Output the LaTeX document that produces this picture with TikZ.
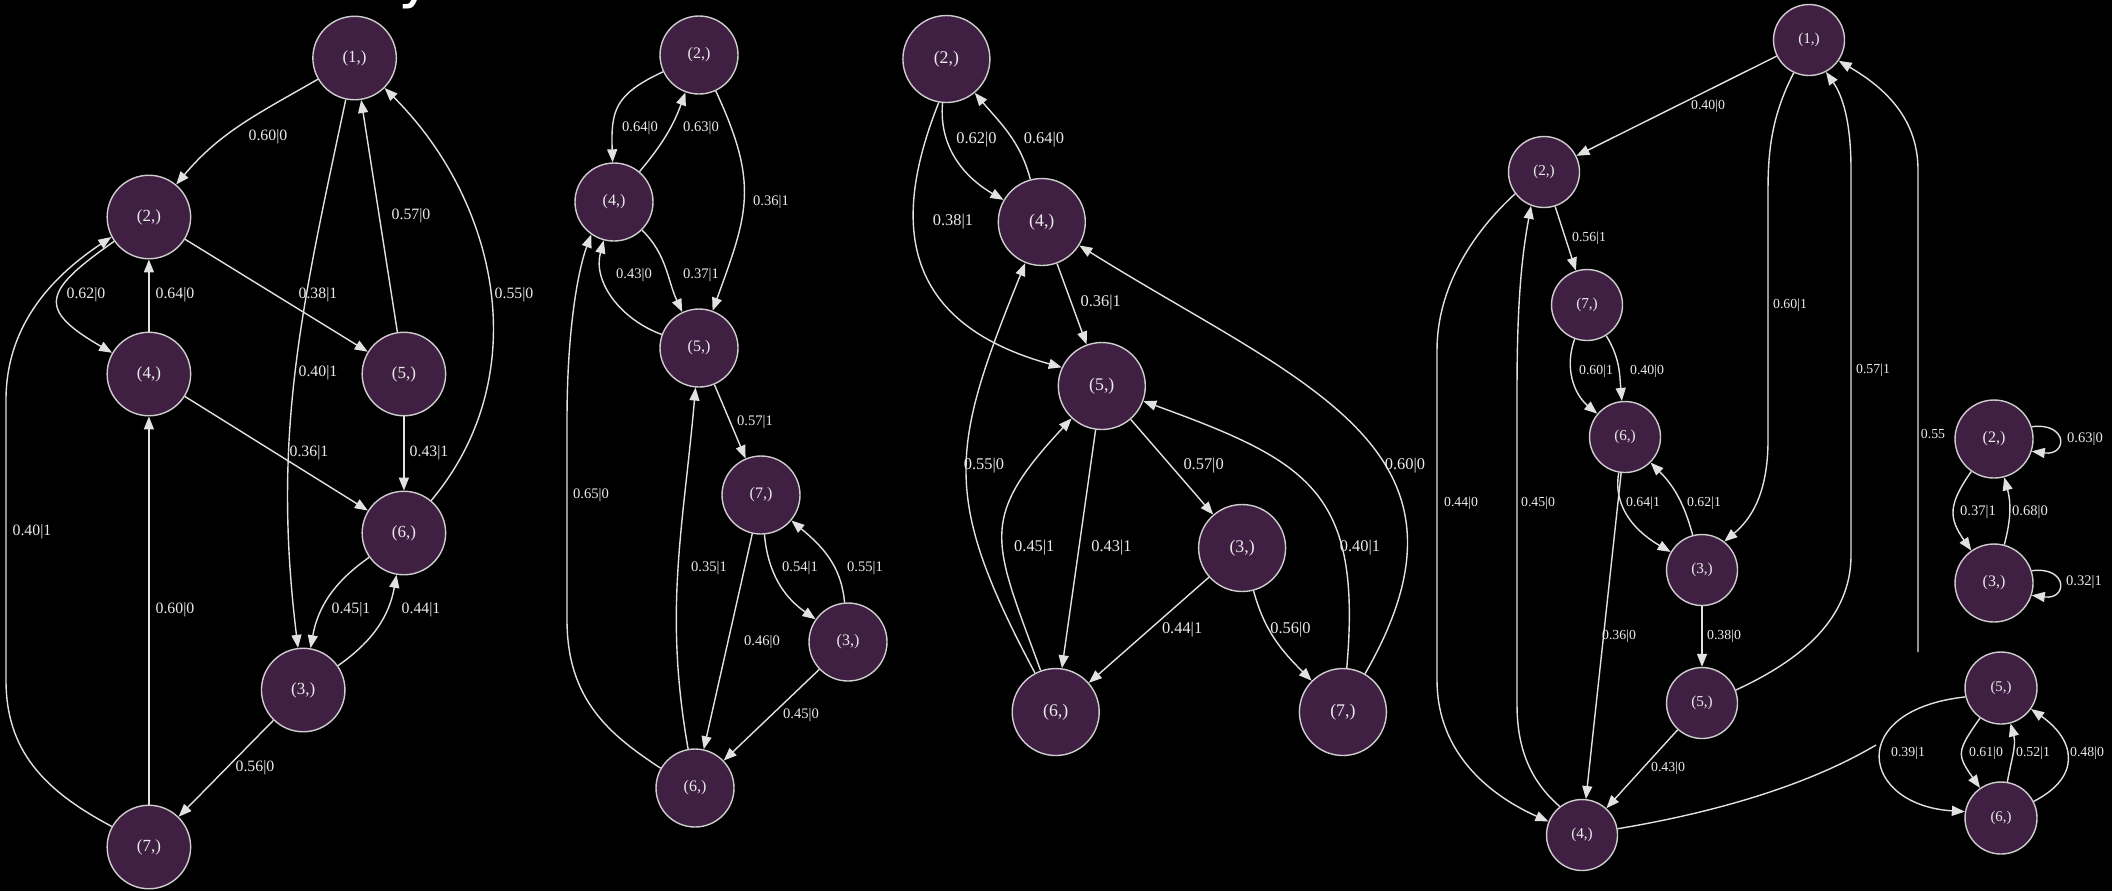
\documentclass[tikz,border=0pt]{standalone}
\usepackage{fontspec}
\setmainfont{Liberation Serif}
\newfontfamily\ttlfont{DejaVu Sans}
\usetikzlibrary{arrows.meta}

\definecolor{statefill}{RGB}{64,32,66}
\definecolor{stateline}{RGB}{205,205,205}
\definecolor{edgecol}{RGB}{225,225,225}
\definecolor{txtcol}{RGB}{235,235,235}

\tikzset{
  state/.style={circle, draw=stateline, line width=0.7pt, fill=statefill,
    minimum size=39pt, inner sep=0pt, text=txtcol, font=\fontsize{8}{9}\selectfont},
  stateA/.style={state, minimum size=41.75pt, font=\fontsize{8.5}{9}\selectfont},
  stateC/.style={state, minimum size=43.5pt, font=\fontsize{8.9}{10}\selectfont},
  stateD/.style={state, minimum size=35.5pt, font=\fontsize{7.6}{9}\selectfont},
  stateE/.style={state, minimum size=36pt, font=\fontsize{7.4}{9}\selectfont},
  conn/.style={draw=edgecol, line width=0.7pt, -{Triangle[length=6.5pt,width=5pt]}},
  connplain/.style={draw=edgecol, line width=0.7pt},
  lbl/.style={text=txtcol, font=\fontsize{7.3}{8}\selectfont, inner sep=0pt},
  lblA/.style={lbl, font=\fontsize{7.9}{9}\selectfont},
  lblC/.style={lbl, font=\fontsize{8.2}{9}\selectfont},
  lblD/.style={lbl, font=\fontsize{6.9}{8}\selectfont},
  lblE/.style={lbl, font=\fontsize{6.9}{8}\selectfont},
}

\begin{document}
\begin{tikzpicture}[x=0.5pt,y=0.5pt]
\useasboundingbox (0,0) rectangle (2112,-891);
\fill[black] (0,0) rectangle (2112,-891);

% title glyph, mostly above the page
\node[font=\ttlfont\fontsize{30}{30}\selectfont, text=white, anchor=base, inner sep=0pt] (ttl) at (416,4) {y};

% ---------------- graph 1 ----------------
\node[stateA] (g1n1) at (354.6,-58) {(1,)};
\node[stateA] (g1n2) at (148.9,-217) {(2,)};
\node[stateA] (g1n4) at (148.9,-374) {(4,)};
\node[stateA] (g1n5) at (403.9,-374) {(5,)};
\node[stateA] (g1n6) at (403.9,-533) {(6,)};
\node[stateA] (g1n3) at (303.2,-690) {(3,)};
\node[stateA] (g1n7) at (148.9,-847) {(7,)};

\draw[conn] (g1n1) to[out=210,in=50] (g1n2);
\draw[conn] (g1n1) to[out=-102,in=97] (g1n3);
\draw[conn] (g1n5) -- (g1n1);
\draw[conn] (g1n6) to[out=50,in=-45] (g1n1);
\draw[conn] (g1n2) to[out=215,in=150,looseness=2] (g1n4);
\draw[conn] (g1n4) -- (g1n2);
\draw[conn] (g1n2) -- (g1n5);
\draw[conn] (g1n4) -- (g1n6);
\draw[conn] (g1n5) -- (g1n6);
\draw[conn] (g1n6) to[out=215,in=80] (g1n3);
\draw[conn] (g1n3) to[out=35,in=-100] (g1n6);
\draw[conn] (g1n3) -- (g1n7);
\draw[conn] (g1n7) -- (g1n4);
\draw[conn] (g1n7.151) .. controls (43,-790) and (6,-750) .. (6,-680)
  -- (6,-400) .. controls (6,-320) and (59,-272) .. (g1n2.208);

\node[lblA] (g1l1) at (268,-137) {0.60|0};
\node[lblA] (g1l2) at (318,-373) {0.40|1};
\node[lblA] (g1l3) at (411,-216) {0.57|0};
\node[lblA] (g1l4) at (514,-295) {0.55|0};
\node[lblA] (g1l5) at (86,-295) {0.62|0};
\node[lblA] (g1l6) at (175,-295) {0.64|0};
\node[lblA] (g1l7) at (318,-295) {0.38|1};
\node[lblA] (g1l8) at (309,-453) {0.36|1};
\node[lblA] (g1l9) at (429,-453) {0.43|1};
\node[lblA] (g1l10) at (351,-610) {0.45|1};
\node[lblA] (g1l11) at (421,-610) {0.44|1};
\node[lblA] (g1l12) at (255,-768) {0.56|0};
\node[lblA] (g1l13) at (175,-610) {0.60|0};
\node[lblA] (g1l14) at (32,-532) {0.40|1};

% ---------------- graph 2 ----------------
\node[state] (g2n2) at (699,-55) {(2,)};
\node[state] (g2n4) at (614,-202) {(4,)};
\node[state] (g2n5) at (699,-348) {(5,)};
\node[state] (g2n7) at (761,-495) {(7,)};
\node[state] (g2n3) at (848,-642) {(3,)};
\node[state] (g2n6) at (695,-788) {(6,)};

\draw[conn] (g2n2) to[out=205,in=92,looseness=1.3] (g2n4);
\draw[conn] (g2n4) to[out=50,in=-110] (g2n2);
\draw[conn] (g2n2) to[out=-65,in=70,looseness=1.2] (g2n5);
\draw[conn] (g2n4) to[out=-45,in=115] (g2n5);
\draw[conn] (g2n5) to[out=160,in=-105] (g2n4);
\draw[conn] (g2n5) -- (g2n7);
\draw[conn] (g2n6.150) .. controls (610,-735) and (567,-700) .. (567,-620)
  -- (567,-420) .. controls (567,-330) and (578,-270) .. (g2n4.235);
\draw[conn] (g2n6) to[out=100,in=-95] (g2n5);
\draw[conn] (g2n7) -- (g2n6);
\draw[conn] (g2n7) to[out=-85,in=145] (g2n3);
\draw[conn] (g2n3) to[out=95,in=-40] (g2n7);
\draw[conn] (g2n3) -- (g2n6);

\node[lbl] (g2l1) at (640,-128) {0.64|0};
\node[lbl] (g2l2) at (701,-128) {0.63|0};
\node[lbl] (g2l3) at (771,-202) {0.36|1};
\node[lbl] (g2l4) at (701,-275) {0.37|1};
\node[lbl] (g2l5) at (634,-275) {0.43|0};
\node[lbl] (g2l6) at (755,-422) {0.57|1};
\node[lbl] (g2l7) at (591,-495) {0.65|0};
\node[lbl] (g2l8) at (709,-568) {0.35|1};
\node[lbl] (g2l9) at (762,-642) {0.46|0};
\node[lbl] (g2l10) at (800,-568) {0.54|1};
\node[lbl] (g2l11) at (865,-568) {0.55|1};
\node[lbl] (g2l12) at (801,-715) {0.45|0};

% ---------------- graph 3 ----------------
\node[stateC] (g3n2) at (946.4,-59) {(2,)};
\node[stateC] (g3n4) at (1041.8,-222) {(4,)};
\node[stateC] (g3n5) at (1101.8,-386) {(5,)};
\node[stateC] (g3n3) at (1242.1,-548) {(3,)};
\node[stateC] (g3n6) at (1055.7,-712) {(6,)};
\node[stateC] (g3n7) at (1342.9,-712) {(7,)};

\draw[conn] (g3n2) to[out=-95,in=150] (g3n4);
\draw[conn] (g3n4) to[out=105,in=-50] (g3n2);
\draw[conn] (g3n2.-100) .. controls (896,-210) and (891,-320) .. (g3n5.155);
\draw[conn] (g3n4) -- (g3n5);
\draw[conn] (g3n6) to[out=118,in=-112,looseness=1.25] (g3n4);
\draw[conn] (g3n6) to[out=110,in=-133,looseness=1.4] (g3n5);
\draw[conn] (g3n5) -- (g3n6);
\draw[conn] (g3n5) -- (g3n3);
\draw[conn] (g3n3) -- (g3n6);
\draw[conn] (g3n3) to[out=-75,in=135] (g3n7);
\draw[conn] (g3n7) to[out=85,in=-20,looseness=1.35] (g3n5);
\draw[conn] (g3n7) to[out=60,in=-32,looseness=1.3] (g3n4);

\node[lblC] (g3l1) at (976.4,-140) {0.62|0};
\node[lblC] (g3l2) at (1043.9,-140) {0.64|0};
\node[lblC] (g3l3) at (952.9,-222) {0.38|1};
\node[lblC] (g3l4) at (1100.7,-303) {0.36|1};
\node[lblC] (g3l5) at (983.9,-466) {0.55|0};
\node[lblC] (g3l6) at (1034.3,-548) {0.45|1};
\node[lblC] (g3l7) at (1111.4,-548) {0.43|1};
\node[lblC] (g3l8) at (1203.6,-466) {0.57|0};
\node[lblC] (g3l9) at (1182.1,-630) {0.44|1};
\node[lblC] (g3l10) at (1290.4,-630) {0.56|0};
\node[lblC] (g3l11) at (1360,-548) {0.40|1};
\node[lblC] (g3l12) at (1405,-466) {0.60|0};

% ---------------- graph 4 ----------------
\node[stateD] (g4n1) at (1809,-40) {(1,)};
\node[stateD] (g4n2) at (1544,-172) {(2,)};
\node[stateD] (g4n7) at (1587,-305) {(7,)};
\node[stateD] (g4n6) at (1625,-437) {(6,)};
\node[stateD] (g4n3) at (1702,-570) {(3,)};
\node[stateD] (g4n5) at (1702,-703) {(5,)};
\node[stateD] (g4n4) at (1582,-835) {(4,)};
\coordinate (g4cutA) at (1876,-745);
\coordinate (g4cutB) at (1918,-652);

\draw[conn] (g4n1) -- (g4n2);
\draw[conn] (g4n1.245) .. controls (1772,-115) and (1768,-150) .. (1768,-190)
  -- (1768,-440) .. controls (1768,-495) and (1750,-520) .. (g4n3.52);
\draw[conn] (g4n5.21) .. controls (1790,-665) and (1851,-625) .. (1851,-555)
  -- (1851,-170) .. controls (1851,-120) and (1842,-95) .. (g4n1.-62);
\draw[connplain] (g4n4.10) .. controls (1700,-815) and (1800,-790) .. (g4cutA);
\draw[conn] (g4cutB) -- (1918,-170) .. controls (1918,-115) and (1880,-85) .. (g4n1.-35);
\draw[conn] (g4n2.217) .. controls (1470,-235) and (1437,-290) .. (1437,-350)
  -- (1437,-680) .. controls (1437,-760) and (1500,-800) .. (g4n4.158);
\draw[conn] (g4n4.128) .. controls (1535,-785) and (1517,-755) .. (1517,-705)
  -- (1517,-390) .. controls (1517,-300) and (1522,-255) .. (g4n2.-111);
\draw[conn] (g4n2) -- (g4n7);
\draw[conn] (g4n7) to[out=-110,in=140] (g4n6);
\draw[conn] (g4n7) to[out=-58,in=95] (g4n6);
\draw[conn] (g4n6) to[out=-100,in=150] (g4n3);
\draw[conn] (g4n3) to[out=105,in=-45] (g4n6);
\draw[conn] (g4n6) -- (g4n4);
\draw[conn] (g4n3) -- (g4n5);
\draw[conn] (g4n5) -- (g4n4);

\node[lblD] (g4l1) at (1708,-106) {0.40|0};
\node[lblD] (g4l2) at (1790,-305) {0.60|1};
\node[lblD] (g4l3) at (1873,-370) {0.57|1};
\node[lblD] (g4l4) at (1933,-434) {0.55};
\node[lblD] (g4l5) at (1461,-503) {0.44|0};
\node[lblD] (g4l6) at (1538,-503) {0.45|0};
\node[lblD] (g4l7) at (1589,-238) {0.56|1};
\node[lblD] (g4l8) at (1596,-371) {0.60|1};
\node[lblD] (g4l9) at (1647,-371) {0.40|0};
\node[lblD] (g4l10) at (1643,-503) {0.64|1};
\node[lblD] (g4l11) at (1704,-503) {0.62|1};
\node[lblD] (g4l12) at (1619,-636) {0.36|0};
\node[lblD] (g4l13) at (1724,-636) {0.38|0};
\node[lblD] (g4l14) at (1668,-768) {0.43|0};

% ---------------- graph 5 ----------------
\node[state] (g5n2) at (1994,-439) {(2,)};
\node[state] (g5n3) at (1994,-583) {(3,)};
\node[stateE] (g5n5) at (2001,-688) {(5,)};
\node[stateE] (g5n6) at (2001,-818) {(6,)};

\draw[conn] (g5n2.18) .. controls (2068,-422) and (2068,-456) .. (g5n2.-18);
\draw[conn] (g5n2) to[out=-125,in=125,looseness=1.3] (g5n3);
\draw[conn] (g5n3) to[out=75,in=-75] (g5n2);
\draw[conn] (g5n3.18) .. controls (2068,-566) and (2068,-600) .. (g5n3.-18);
\draw[conn] (g5n5.194) .. controls (1845,-710) and (1860,-805) .. (g5n6.170);
\draw[conn] (g5n5) to[out=-125,in=125,looseness=1.5] (g5n6);
\draw[conn] (g5n6) to[out=80,in=-75] (g5n5);
\draw[conn] (g5n6) to[out=27,in=-35,looseness=1.5] (g5n5);

\node[lbl] (g5l1) at (2085,-439) {0.63|0};
\node[lbl] (g5l2) at (1978,-512) {0.37|1};
\node[lbl] (g5l3) at (2030,-512) {0.68|0};
\node[lbl] (g5l4) at (2084,-582) {0.32|1};
\node[lblE] (g5l5) at (1908,-753) {0.39|1};
\node[lblE] (g5l6) at (1986,-753) {0.61|0};
\node[lblE] (g5l7) at (2033,-753) {0.52|1};
\node[lblE] (g5l8) at (2087,-753) {0.48|0};
\end{tikzpicture}
\end{document}
